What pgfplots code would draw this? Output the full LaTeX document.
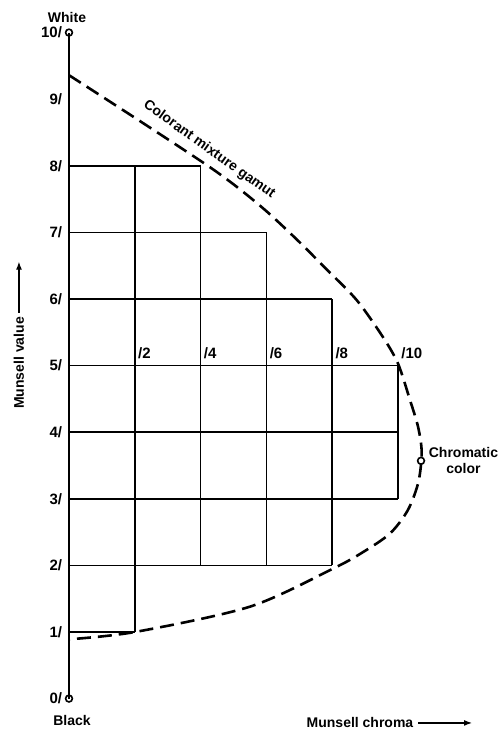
\documentclass[border=0pt]{standalone}
\usepackage{fontspec}
\setmainfont{Liberation Sans}
\usepackage{pgfplots}
\pgfplotsset{compat=1.18}
\usetikzlibrary{arrows.meta}
\tikzset{
  t/.style={font=\bfseries\fontsize{7}{8}\selectfont, inner sep=0pt},
  vl/.style={anchor=east, inner sep=0pt, font=\bfseries\fontsize{7.5}{8}\selectfont},
  cl/.style={anchor=base west, inner sep=0pt, font=\bfseries\fontsize{7.5}{8}\selectfont},
}
\begin{document}
\begin{tikzpicture}
\begin{axis}[
  scale only axis, width=250.5pt, height=367.5pt,
  xmin=-2.097, xmax=13.131, ymin=-0.547, ymax=10.489,
  axis line style={draw=none}, ticks=none, clip=false,
]
% grid: horizontal segments
\addplot[black, line width=0.85pt] coordinates {(0,8) (4,8)};
\addplot[black, line width=0.85pt] coordinates {(0,7) (6,7)};
\addplot[black, line width=0.85pt] coordinates {(0,6) (8,6)};
\addplot[black, line width=0.85pt] coordinates {(0,5) (10,5)};
\addplot[black, line width=0.85pt] coordinates {(0,4) (10,4)};
\addplot[black, line width=0.85pt] coordinates {(0,3) (10,3)};
\addplot[black, line width=0.85pt] coordinates {(0,2) (8,2)};
\addplot[black, line width=0.85pt] coordinates {(0,1) (2,1)};
% grid: vertical segments
\addplot[black, line width=0.85pt] coordinates {(2,1) (2,8)};
\addplot[black, line width=0.85pt] coordinates {(4,2) (4,8)};
\addplot[black, line width=0.85pt] coordinates {(6,2) (6,7)};
\addplot[black, line width=0.85pt] coordinates {(8,2) (8,6)};
\addplot[black, line width=0.85pt] coordinates {(10,3) (10,5)};
% value axis
\addplot[black, line width=1.3pt] coordinates {(0,0) (0,10)};
% gamut
\addplot[black, line width=1.3pt, smooth, dash pattern=on 7pt off 3.5pt] coordinates {
(0,9.36) (2.16,8.67) (4.19,8.01) (5.11,7.68) (6.02,7.31) (6.93,6.89)
(7.84,6.44) (8.75,5.98) (9.54,5.43) (10.0,5.03) (10.36,4.49) (10.61,4.08) (10.72,3.70)
(10.62,3.25) (10.30,2.83) (9.76,2.48) (8.94,2.20) (8.02,1.95) (5.50,1.38)
(2.01,1.00) (0,0.89)};
% circles
\addplot[only marks, mark=o, mark size=1.7pt, mark options={fill=white, line width=0.8pt}]
  coordinates {(0,0) (0,10) (10.70,3.57)};
% value labels
\node[vl] at (axis cs:-0.2,0) {0/};
\node[vl] at (axis cs:-0.2,1) {1/};
\node[vl] at (axis cs:-0.2,2) {2/};
\node[vl] at (axis cs:-0.2,3) {3/};
\node[vl] at (axis cs:-0.2,4) {4/};
\node[vl] at (axis cs:-0.2,5) {5/};
\node[vl] at (axis cs:-0.2,6) {6/};
\node[vl] at (axis cs:-0.2,7) {7/};
\node[vl] at (axis cs:-0.2,8) {8/};
\node[vl] at (axis cs:-0.2,9) {9/};
\node[vl] at (axis cs:-0.2,10) {10/};
% chroma labels
\node[cl] at (axis cs:2.09,5.11) {/2};
\node[cl] at (axis cs:4.09,5.11) {/4};
\node[cl] at (axis cs:6.09,5.11) {/6};
\node[cl] at (axis cs:8.09,5.11) {/8};
\node[cl] at (axis cs:10.09,5.11) {/10};
\node[t] at (axis cs:-0.06,10.23) {White};
\node[t] at (axis cs:0.09,-0.335) {Black};
\node[t, align=center] at (axis cs:11.99,3.57) {Chromatic\\color};
\node[t, rotate=-35.5] at (axis cs:4.26,8.24) {Colorant mixture gamut};
\node[t, rotate=90] at (axis cs:-1.52,5.04) {Munsell value};
\draw[-{Latex[length=4pt,width=3pt]}, line width=0.6pt] (axis cs:-1.52,5.79) -- (axis cs:-1.52,6.56);
\node[t] at (axis cs:8.845,-0.366) {Munsell chroma};
\draw[-{Latex[length=4pt,width=3pt]}, line width=0.6pt] (axis cs:10.61,-0.366) -- (axis cs:12.25,-0.366);
\end{axis}
\end{tikzpicture}
\end{document}
